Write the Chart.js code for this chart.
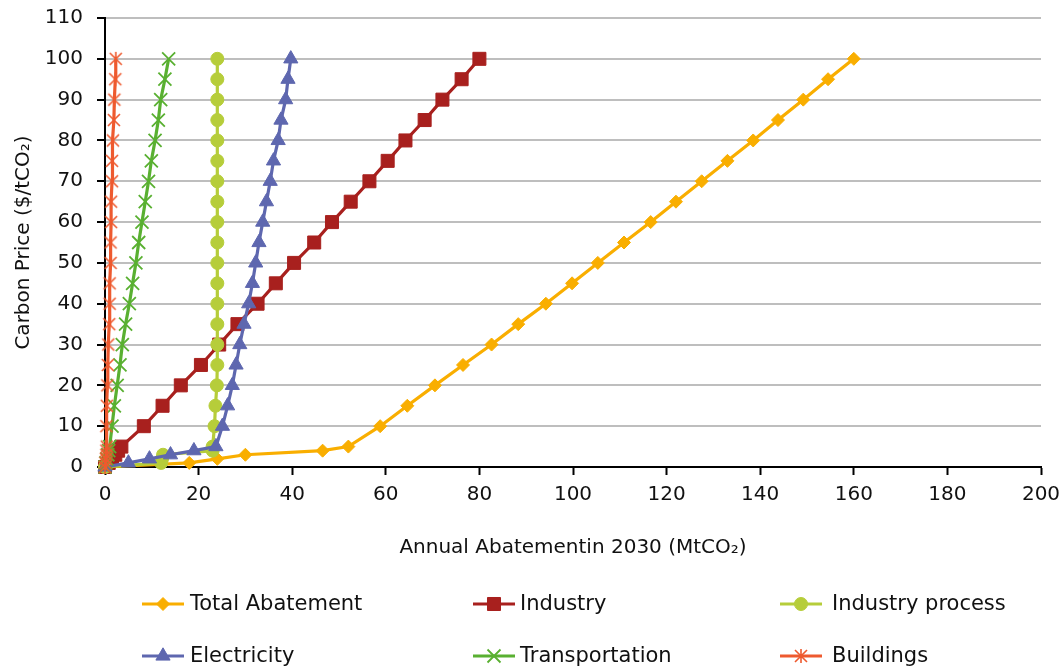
<!DOCTYPE html>
<html>
<head>
<meta charset="utf-8">
<script src="https://cdn.jsdelivr.net/npm/chart.js@4.4.1/dist/chart.umd.min.js"></script>
<style>
html,body{margin:0;padding:0;background:#fff;}
#wrap{position:relative;width:1063px;height:669px;}
</style>
</head>
<body>
<div id="wrap"><canvas id="c"></canvas></div>
<script>
// Carbon price levels ($/tCO2) – shared y values of every series
const prices = [0,1,2,3,4,5,10,15,20,25,30,35,40,45,50,55,60,65,70,75,80,85,90,95,100];
// Annual abatement in 2030 (MtCO2) per series
const totalAbatement = [0,18,24,30,46.5,52,58.8,64.6,70.5,76.5,82.6,88.3,94.2,99.8,105.3,110.9,116.6,122,127.5,133,138.5,143.8,149.2,154.5,160];
const industry = [0,0.8,1.5,2.2,2.8,3.5,8.3,12.3,16.2,20.5,24.4,28.3,32.6,36.5,40.4,44.7,48.5,52.5,56.5,60.4,64.2,68.3,72.1,76.2,80];
const industryProcess = [0,12,12.2,12.4,23,23,23.4,23.6,23.9,24,24,24,24,24,24,24,24,24,24,24,24,24,24,24,24];
const electricity = [0,5,9.5,14,19,23.7,25.1,26.2,27.2,28,28.8,29.7,30.7,31.5,32.2,32.9,33.7,34.5,35.3,36,37,37.6,38.6,39.1,39.7];
const transportation = [0,0.2,0.4,0.6,0.8,1,1.5,2,2.6,3.2,3.7,4.4,5.2,5.9,6.6,7.2,7.9,8.6,9.3,9.9,10.7,11.4,11.9,12.8,13.6];
const buildings = [0,0.1,0.2,0.3,0.3,0.4,0.3,0.4,0.5,0.6,0.7,0.9,1,1,1.2,1.2,1.3,1.3,1.5,1.5,1.7,1.9,2,2.2,2.3];

const seriesNames = ['Total Abatement','Industry','Industry process','Electricity','Transportation','Buildings'];
const xTicksMax = 200, xStep = 20, yTicksMax = 110, yStep = 10;

const FONT = 'DejaVu Sans';

// asterisk marker (X with vertical bar)
function asterisk(color){
  const s = 16, c = document.createElement('canvas');
  c.width = s; c.height = s;
  const g = c.getContext('2d');
  g.strokeStyle = color; g.lineWidth = 1.6;
  g.beginPath();
  g.moveTo(2,2); g.lineTo(s-2,s-2);
  g.moveTo(s-2,2); g.lineTo(2,s-2);
  g.moveTo(s/2,1); g.lineTo(s/2,s-1);
  g.stroke();
  return c;
}

const colors = ['#F9AE00','#A8201E','#B6CD3A','#5E67AF','#59B031','#EE5A2F'];
const styles = ['rectRot','rect','circle','triangle','crossRot', asterisk('#EE5A2F')];
const radii = [6.5, 9.2, 6.5, 8.2, 9.2, 8];
const values = [totalAbatement, industry, industryProcess, electricity, transportation, buildings];

const datasets = values.map((v,i)=>({
  label: seriesNames[i],
  data: v.map((x,k)=>({x:x, y:prices[k]})),
  borderColor: colors[i],
  backgroundColor: colors[i],
  pointBackgroundColor: colors[i],
  pointBorderColor: colors[i],
  pointStyle: styles[i],
  pointRadius: radii[i],
  pointBorderWidth: i===4 ? 1.8 : 1,
  borderWidth: 3.2,
  tension: 0,
  fill: false,
  clip: false,
  order: 6 - i
}));

const legendPlugin = {
  id: 'customLegend',
  afterDraw(chart){
    const ctx = chart.ctx;
    const cols = [{lx:142, tx:190},{lx:473, tx:520},{lx:780, tx:832}];
    const rows = [604, 656];
    ctx.save();
    datasets.forEach((d,i)=>{
      const col = cols[i%3], y = rows[Math.floor(i/3)];
      ctx.strokeStyle = d.borderColor;
      ctx.lineWidth = 3;
      ctx.beginPath();
      ctx.moveTo(col.lx, y); ctx.lineTo(col.lx+42, y);
      ctx.stroke();
      ctx.fillStyle = d.borderColor;
      ctx.strokeStyle = d.borderColor;
      ctx.lineWidth = d.pointBorderWidth;
      Chart.helpers.drawPoint(ctx, {pointStyle: d.pointStyle, radius: d.pointRadius, rotation: 0, borderWidth: d.pointBorderWidth}, col.lx+21, y);
      ctx.fillStyle = '#111';
      ctx.font = '21px "' + FONT + '"';
      ctx.textBaseline = 'middle';
      ctx.textAlign = 'left';
      ctx.fillText(d.label, col.tx, y+1);
    });
    ctx.restore();
  }
};

Chart.defaults.font.family = FONT;
Chart.defaults.color = '#111';

new Chart(document.getElementById('c'), {
  type: 'line',
  data: { datasets },
  options: {
    responsive: true,
    maintainAspectRatio: false,
    animation: false,
    devicePixelRatio: 1,
    layout: { padding: { left: 0, top: 18, right: 22, bottom: 109 } },
    plugins: { legend: { display: false }, tooltip: { enabled: false } },
    scales: {
      x: {
        type: 'linear',
        min: 0, max: xTicksMax,
        ticks: { stepSize: xStep, padding: 8, font: { size: 20 }, color: '#111', maxRotation: 0 },
        grid: { drawOnChartArea: false, drawTicks: true, tickLength: 8, tickColor: '#000', tickWidth: 2 },
        border: { color: '#000', width: 2 },
        title: { display: true, text: 'Annual Abatementin 2030 (MtCO\u2082)', font: { size: 20 }, color: '#111', padding: { top: 0, bottom: 0 } },
        afterFit(s){ s.height = 93; s.paddingLeft = 0; s.paddingRight = 0; }
      },
      y: {
        min: 0, max: yTicksMax,
        ticks: { stepSize: yStep, padding: 14, font: { size: 20 }, color: '#111' },
        grid: { color: '#BEBEBE', lineWidth: 2, drawTicks: true, tickLength: 8, tickColor: '#000', tickWidth: 2 },
        border: { color: '#000', width: 2 },
        title: { display: true, text: 'Carbon Price ($/tCO\u2082)', font: { size: 20 }, color: '#111', padding: { top: 12, bottom: 0 } },
        afterFit(s){ s.width = 105; s.paddingTop = 0; s.paddingBottom = 0; }
      }
    }
  },
  plugins: [legendPlugin]
});
</script>
</body>
</html>
